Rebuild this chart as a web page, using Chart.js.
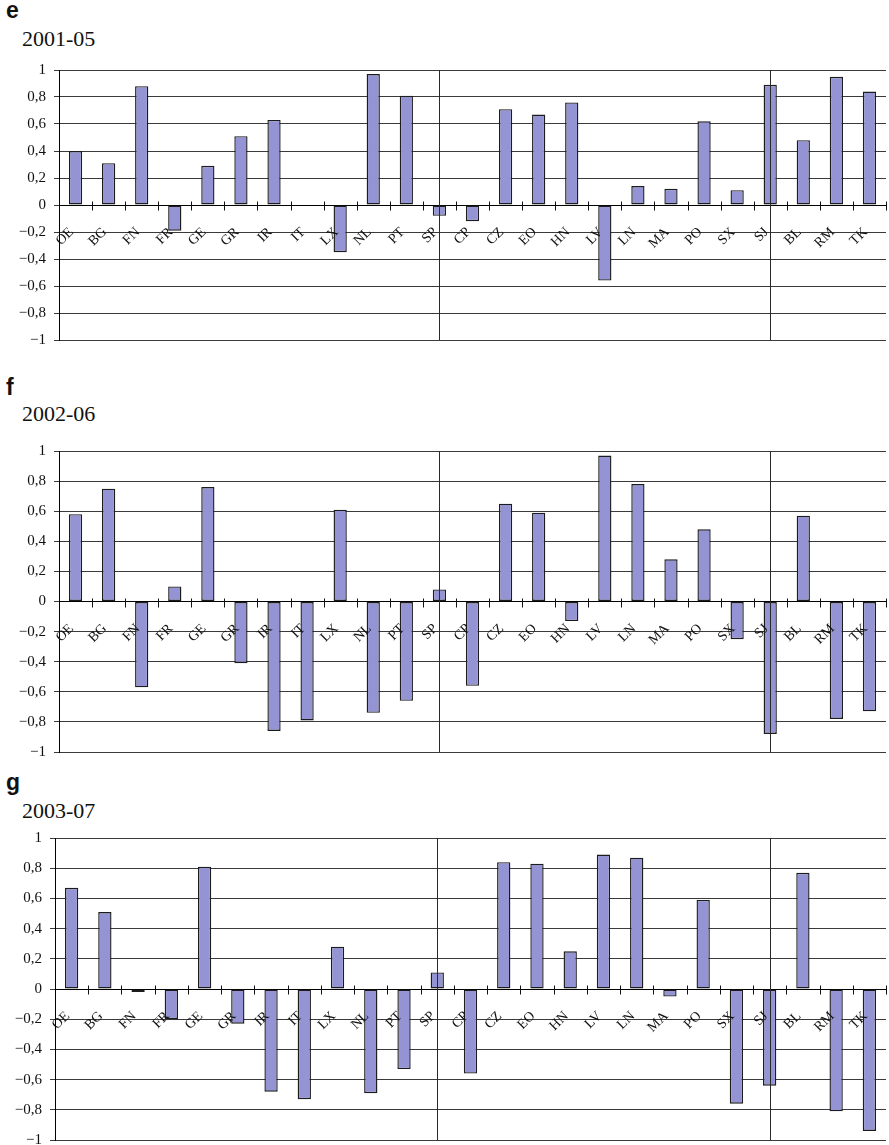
<!DOCTYPE html>
<html>
<head>
<meta charset="utf-8">
<script src="https://cdn.jsdelivr.net/npm/chart.js@4.4.1/dist/chart.umd.min.js"></script>
<style>
  html, body { margin: 0; padding: 0; background: #fff; overflow: hidden; }
  #page { position: relative; width: 889px; height: 1145px; }
  .panel-letter {
    position: absolute; left: 6px;
    font-family: "Liberation Sans", Arial, sans-serif; font-weight: bold;
    font-size: 23px; line-height: 23px; color: #111;
  }
  .panel-period {
    position: absolute; left: 22px;
    font-family: "Liberation Serif", "Times New Roman", serif;
    font-size: 22px; line-height: 22px; color: #111;
  }
  .chart-box { position: absolute; left: 0; }
  canvas { display: block; }
</style>
</head>
<body>
<div id="page"></div>
<script>
// Country codes on the category axis
const categories = ['OE','BG','FN','FR','GE','GR','IR','IT','LX','NL','PT','SP',
                    'CP','CZ','EO','HN','LV','LN','MA','PO','SX','SJ',
                    'BL','RM','TK'];

// Panel letters and window periods
const panelLetters = ['e', 'f', 'g'];
const periods = ['2001-05', '2002-06', '2003-07'];

// Values per window
const values2001_05 = [0.40, 0.31, 0.88, -0.19, 0.29, 0.51, 0.63, 0, -0.35, 0.97, 0.81, -0.08,
                       -0.12, 0.71, 0.67, 0.76, -0.56, 0.14, 0.12, 0.62, 0.11, 0.89,
                       0.48, 0.95, 0.84];
const values2002_06 = [0.58, 0.75, -0.57, 0.10, 0.76, -0.41, -0.86, -0.79, 0.61, -0.74, -0.66, 0.08,
                       -0.56, 0.65, 0.59, -0.13, 0.97, 0.78, 0.28, 0.48, -0.25, -0.88,
                       0.57, -0.78, -0.73];
const values2003_07 = [0.67, 0.51, -0.02, -0.20, 0.81, -0.23, -0.68, -0.73, 0.28, -0.69, -0.53, 0.11,
                       -0.56, 0.84, 0.83, 0.25, 0.89, 0.87, -0.05, 0.59, -0.76, -0.64,
                       0.77, -0.81, -0.94];

// Last member of each country group (a vertical rule is drawn through it)
const groupEnds = ['SP', 'SJ'];

// Value axis range and step
const yMin = -1, yMax = 1, yStep = 0.2;

const seriesList = [values2001_05, values2002_06, values2003_07];

// Page placement of each panel (chart-area edges, text tops)
const panelLayout = [
  { letterTop: -1.5, periodTop: 28.3, areaTop: 70,  areaBottom: 340,  areaLeft: 59 },
  { letterTop: 375.5, periodTop: 403.3, areaTop: 451, areaBottom: 752,  areaLeft: 59 },
  { letterTop: 770.5, periodTop: 799.6, areaTop: 838, areaBottom: 1140, areaLeft: 55 }
];
const PAD = 17;          // room for the half-height of the end tick labels
const PAGE_W = 889;
const AREA_RIGHT = 886;
const SERIF = '"Liberation Serif", "Times New Roman", serif';

// Category label placement relative to the bar centre and the zero line
const LABEL_ANGLE = -Math.PI / 4;
const LABEL_DX = -4;
const LABEL_DY = 25;

function formatTick(v) {
  if (Math.abs(v) < 1e-9) return '0';
  const s = Math.abs(v - Math.round(v)) < 1e-9 ? String(Math.round(Math.abs(v)))
                                                : Math.abs(v).toFixed(1).replace('.', ',');
  return (v < 0 ? '\u2212' : '') + s;
}

// Group separators, tick marks crossing the zero axis, and slanted category labels
const categoryAxisDecor = {
  id: 'categoryAxisDecor',
  afterDatasetsDraw(chart) {
    const { ctx, chartArea, scales: { x, y } } = chart;
    ctx.save();
    ctx.strokeStyle = '#2a2a2a';
    ctx.lineWidth = 1;
    groupEnds.forEach(code => {
      const px = Math.round(x.getPixelForValue(categories.indexOf(code))) + 0.5;
      ctx.beginPath();
      ctx.moveTo(px, chartArea.top);
      ctx.lineTo(px, chartArea.bottom);
      ctx.stroke();
    });

    const zeroPx = y.getPixelForValue(0);
    const zero = Math.round(zeroPx) + 0.5;
    ctx.strokeStyle = '#111';
    for (let i = 1; i <= categories.length; i++) {
      const bx = i === categories.length ? x.right
               : (x.getPixelForValue(i - 1) + x.getPixelForValue(i)) / 2;
      const px = Math.round(bx) + 0.5;
      ctx.beginPath();
      ctx.moveTo(px, zero - 4);
      ctx.lineTo(px, zero + 5);
      ctx.stroke();
    }

    ctx.fillStyle = '#111';
    ctx.font = '14px ' + SERIF;
    ctx.textAlign = 'right';
    ctx.textBaseline = 'middle';
    categories.forEach((code, i) => {
      ctx.save();
      ctx.translate(x.getPixelForValue(i) + LABEL_DX, zeroPx + LABEL_DY);
      ctx.rotate(LABEL_ANGLE);
      ctx.fillText(code, 0, 0);
      ctx.restore();
    });
    ctx.restore();
  }
};

const page = document.getElementById('page');

seriesList.forEach((values, idx) => {
  const L = panelLayout[idx];

  const letter = document.createElement('div');
  letter.className = 'panel-letter';
  letter.style.top = L.letterTop + 'px';
  letter.textContent = panelLetters[idx];
  page.appendChild(letter);

  const period = document.createElement('div');
  period.className = 'panel-period';
  period.style.top = L.periodTop + 'px';
  period.textContent = periods[idx];
  page.appendChild(period);

  const box = document.createElement('div');
  box.className = 'chart-box';
  const h = (L.areaBottom - L.areaTop) + 2 * PAD;
  box.style.top = (L.areaTop - PAD) + 'px';
  box.style.width = PAGE_W + 'px';
  box.style.height = h + 'px';
  const canvas = document.createElement('canvas');
  canvas.width = PAGE_W;
  canvas.height = h;
  canvas.style.width = PAGE_W + 'px';
  canvas.style.height = h + 'px';
  box.appendChild(canvas);
  page.appendChild(box);

  new Chart(canvas, {
    type: 'bar',
    data: {
      labels: categories,
      datasets: [{
        data: values,
        backgroundColor: '#9494d4',
        borderColor: '#1c1c1c',
        borderWidth: 1.4,
        borderSkipped: false,
        barPercentage: 0.4,
        categoryPercentage: 1
      }]
    },
    options: {
      responsive: false,
      animation: false,
      devicePixelRatio: 1,
      layout: { padding: { top: PAD, bottom: PAD, left: 0, right: PAGE_W - AREA_RIGHT } },
      plugins: { legend: { display: false }, tooltip: { enabled: false } },
      scales: {
        x: {
          position: { y: 0 },
          grid: { display: true, drawOnChartArea: false, drawTicks: false },
          border: { display: true, color: '#000', width: 1 },
          ticks: { display: false },
          afterFit(s) { s.height = 0; }
        },
        y: {
          min: yMin, max: yMax,
          ticks: {
            stepSize: yStep, padding: 8, color: '#111',
            font: { family: SERIF, size: 15 },
            callback: v => formatTick(v)
          },
          grid: { color: '#3a3a3a', lineWidth: 1, drawTicks: true, tickLength: 5 },
          border: { display: true, color: '#000', width: 1 },
          afterFit(s) { s.width = L.areaLeft; }
        }
      }
    },
    plugins: [categoryAxisDecor]
  });
});
</script>
</body>
</html>
